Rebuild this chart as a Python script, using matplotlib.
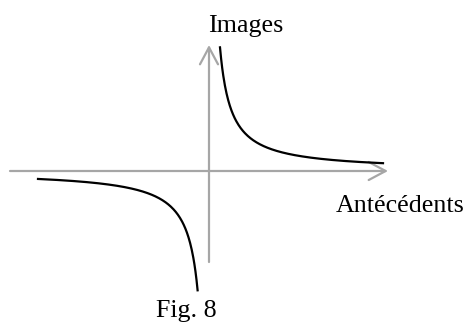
import numpy as np
import matplotlib.pyplot as plt
from matplotlib.patches import FancyArrowPatch

plt.rcParams['font.family'] = ['Liberation Serif', 'DejaVu Serif']

# hyperbola y = k / x (1 unit = 20 px)
k = 3.4
x_right = (0.55, 8.7)
x_left = (-8.55, -0.57)

# axes extent
x_axis = (-9.95, 8.95)
y_axis = (-4.55, 6.3)

x_label = 'Antécédents'
y_label = 'Images'
caption = 'Fig. 8'

fig = plt.figure(figsize=(4.71, 3.24), dpi=100)
ax = fig.add_axes([0, 0, 1, 1])
ax.set_xlim(-10.45, 13.1)
ax.set_ylim(-7.65, 8.55)
ax.axis('off')

grey = '#a6a6a6'
arrow_style = '->,head_length=1.22,head_width=0.65'

ax.add_patch(FancyArrowPatch((x_axis[0], 0), (x_axis[1], 0), arrowstyle=arrow_style,
                             mutation_scale=10, color=grey, lw=1.6, shrinkA=0, shrinkB=0))
ax.add_patch(FancyArrowPatch((0, y_axis[0]), (0, y_axis[1]), arrowstyle=arrow_style,
                             mutation_scale=10, color=grey, lw=1.6, shrinkA=0, shrinkB=0))

xr = np.linspace(x_right[0], x_right[1], 300)
xl = np.linspace(x_left[0], x_left[1], 300)
ax.plot(xr, k / xr, color='black', lw=1.6)
ax.plot(xl, k / xl, color='black', lw=1.6)

ax.text(1.85, 6.95, y_label, fontsize=18.7, ha='center', va='baseline')
ax.text(9.55, -2.05, x_label, fontsize=18.7, ha='center', va='baseline')
ax.text(-1.15, -7.3, caption, fontsize=18.7, ha='center', va='baseline')

fig.savefig('out.png', dpi=100)
